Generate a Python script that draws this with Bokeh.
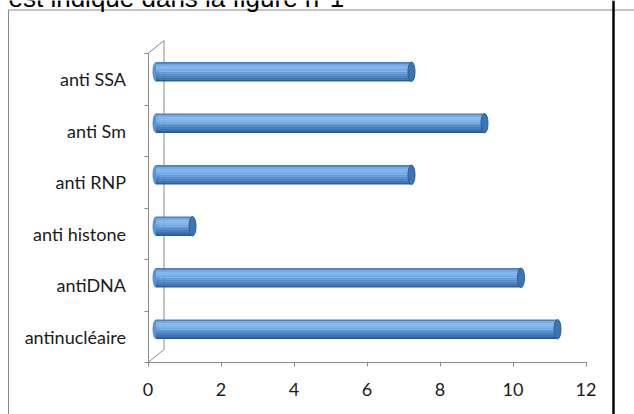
import numpy as np
from bokeh.plotting import figure
from bokeh.models import Range1d, LinearAxis, FixedTicker, Span
from bokeh.core.properties import value
from bokeh.embed import file_html
from bokeh.resources import INLINE

# ---- data -------------------------------------------------------------
categories = ["antinucléaire", "antiDNA", "anti histone", "anti RNP", "anti Sm", "anti SSA"]
counts = [11, 10, 1, 7, 9, 7]
x_ticks = [0, 2, 4, 6, 8, 10, 12]
caption = "est indiqué dans la figure n°1"

# ---- geometry (pixels) ------------------------------------------------
W, H = 634, 414
PX_X = 36.5      # px per x unit
PX_Y = 51.5      # px per category
X0 = 147.5       # px position of x = 0
YB = 362.0       # px position (from top) of lower category boundary

x_start = -X0 / PX_X
x_end = (W - X0) / PX_X
y_top = -0.5 + YB / PX_Y
y_bot = -0.5 - (H - YB) / PX_Y


def dx(px):
    return px / PX_X


def dy(px):
    return px / PX_Y


def X(px):
    return x_start + px / PX_X


def Y(py):
    return y_top - py / PX_Y


GRAY = "#8a8a8a"
n = len(categories)

p = figure(width=W, height=H, x_range=Range1d(x_start, x_end), y_range=Range1d(y_bot, y_top),
           output_backend="svg", toolbar_location=None, x_axis_location=None,
           y_axis_location=None, min_border=0, outline_line_color=None,
           background_fill_color="white", border_fill_color="white")
p.grid.visible = False

# page decorations: frame box, right rule, cropped caption (cut at the top as on the page)
p.line([X(8), X(8), X(W + 10)], [Y(H + 10), Y(9.5), Y(9.5)], line_color=GRAY, line_width=1)
p.add_layout(Span(location=X(613), dimension="height", line_color="black", line_width=2.5))
p.text(x=[X(8)], y=[Y(-3)], text=[caption], text_font=value("Liberation Sans"),
       text_font_size="26px", text_baseline="alphabetic", text_align="left", text_color="black")

# 3D back wall outline
wdx, wdy = dx(16), dy(13)
p.line([0, wdx, wdx, 0], [-0.5, -0.5 + wdy, n - 0.5 + wdy, n - 0.5], line_color=GRAY, line_width=1)

# cylinders
ypos = np.arange(n) + dy(7.5)
left = np.full(n, dx(8))
right = np.array(counts, dtype=float) + dx(8)
bh = dy(19.5)
cap_w = dx(7)

p.ellipse(x=left, y=ypos, width=cap_w, height=bh, fill_color="#5a93d2", line_color=None)
strip_colors = ["#4a82c2", "#72a7e1", "#84b7ee", "#80b3eb", "#72a8e3", "#649bd9",
                "#558dce", "#4780c1", "#3b72b1", "#2d5e99"]
ns = len(strip_colors)
for k, col in enumerate(strip_colors):
    yk = ypos + bh / 2 - (k + 0.5) * bh / ns
    p.hbar(y=yk, left=left, right=right, height=bh / ns * 1.08, fill_color=col, line_color=None)
p.ellipse(x=right, y=ypos, width=cap_w, height=bh, fill_color="#3d74b2", line_color="#2d5c94",
          line_width=1)

# axes
xaxis = LinearAxis(fixed_location=-0.5, ticker=FixedTicker(ticks=x_ticks, minor_ticks=[]),
                   bounds=(x_ticks[0], x_ticks[-1]))
xaxis.axis_line_color = GRAY
xaxis.major_tick_line_color = GRAY
xaxis.major_tick_out = 4
xaxis.major_tick_in = 0
xaxis.minor_tick_line_color = None
xaxis.major_label_standoff = 16
xaxis.major_label_text_font = "Lato"
xaxis.major_label_text_font_size = "18px"
xaxis.major_label_text_color = "#1a1a1a"
p.add_layout(xaxis, "below")

yaxis = LinearAxis(fixed_location=0,
                   ticker=FixedTicker(ticks=list(range(n)), minor_ticks=[i - 0.5 for i in range(n + 1)]),
                   bounds=(-0.5, n - 0.5),
                   major_label_overrides={i: c for i, c in enumerate(categories)})
yaxis.axis_line_color = GRAY
yaxis.major_tick_line_color = None
yaxis.major_tick_out = 0
yaxis.major_tick_in = 0
yaxis.minor_tick_line_color = GRAY
yaxis.minor_tick_out = 4
yaxis.minor_tick_in = 0
yaxis.major_label_standoff = 18
yaxis.major_label_text_font = "Lato"
yaxis.major_label_text_font_size = "18px"
yaxis.major_label_text_color = "#1a1a1a"
p.add_layout(yaxis, "left")

open("out.html", "w").write(file_html(p, INLINE))
